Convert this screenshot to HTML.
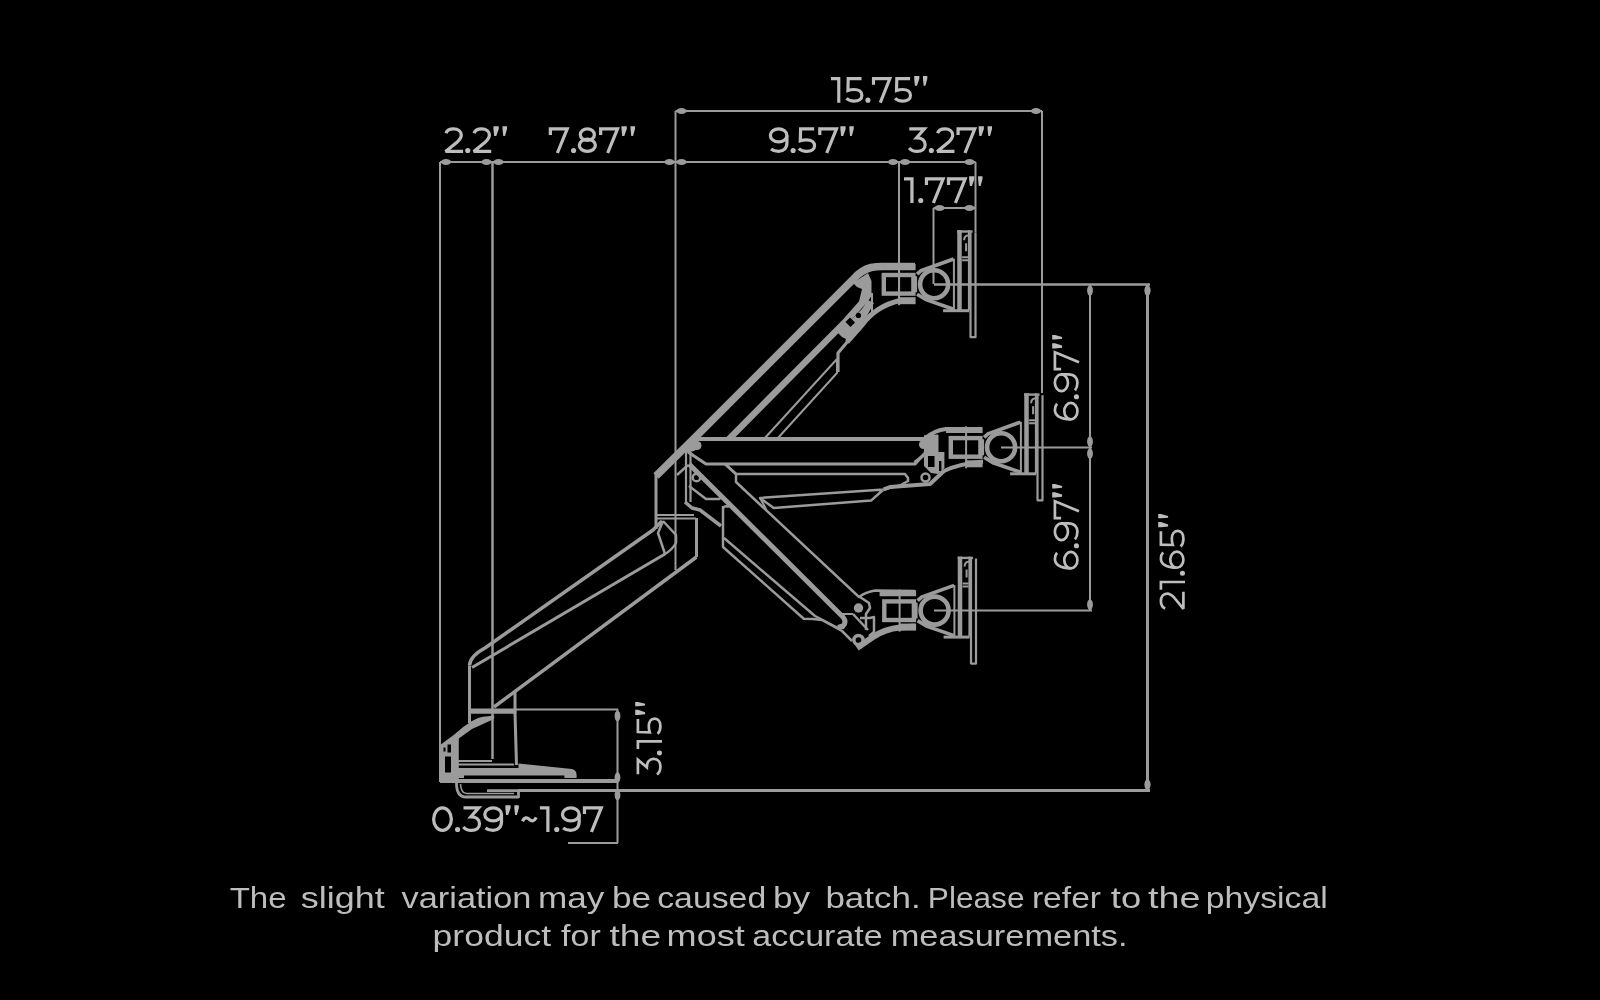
<!DOCTYPE html>
<html><head><meta charset="utf-8"><style>
html,body{margin:0;padding:0;background:#000;width:1600px;height:1000px;overflow:hidden}
svg{display:block;will-change:transform}
</style></head><body>
<svg width="1600" height="1000" viewBox="0 0 1600 1000">
<rect width="1600" height="1000" fill="#000"/>

<g stroke="#9b9b9b" fill="none" stroke-width="2">
  <path d="M675.5 111H1042"/>
  <path d="M675.5 111V570"/>
  <path d="M1042 111V393"/>
  <path d="M440 162H975.5"/>
  <path d="M440 162V782"/>
  <path d="M492.5 162V759" stroke-width="2.5"/>
  <path d="M899 162V300"/>
  <path d="M975.5 162V232"/>
  <path d="M933.5 208H975.5M933.5 208V284"/>
  <path d="M934 284.4H1150" stroke-width="2.5"/>
  <path d="M1090 284V610"/>
  <path d="M1147.5 284V790" stroke-width="3"/>
  <path d="M1001 447.4H1092"/>
  <path d="M934 610.6H1092"/>
  <path d="M518 790.6H1150" stroke-width="3"/>
  <path d="M515 709.5H618M617.5 709V843M568 843H618"/>
</g>
<g fill="#9b9b9b">
  <ellipse cx="681.5" cy="111" rx="5.2" ry="2.9"/><ellipse cx="1036" cy="111" rx="5.2" ry="2.9"/>
  <ellipse cx="446" cy="162" rx="5.2" ry="2.9"/><ellipse cx="486.5" cy="162" rx="5.2" ry="2.9"/><ellipse cx="498.5" cy="162" rx="5.2" ry="2.9"/><ellipse cx="669.5" cy="162" rx="5.2" ry="2.9"/><ellipse cx="681.5" cy="162" rx="5.2" ry="2.9"/><ellipse cx="893" cy="162" rx="5.2" ry="2.9"/><ellipse cx="905" cy="162" rx="5.2" ry="2.9"/><ellipse cx="969.5" cy="162" rx="5.2" ry="2.9"/>
  <ellipse cx="939.5" cy="208" rx="5.2" ry="2.9"/><ellipse cx="969.5" cy="208" rx="5.2" ry="2.9"/>
  <ellipse cx="1090" cy="290.5" rx="2.9" ry="5.2"/><ellipse cx="1090" cy="441.5" rx="2.9" ry="5.2"/><ellipse cx="1090" cy="453.5" rx="2.9" ry="5.2"/><ellipse cx="1090" cy="604.5" rx="2.9" ry="5.2"/>
  <ellipse cx="1147.5" cy="290.5" rx="3.1" ry="5.2"/><ellipse cx="1147.5" cy="784.5" rx="3.1" ry="5.2"/>
  <ellipse cx="617.5" cy="716" rx="2.9" ry="5.2"/><ellipse cx="617.5" cy="777.5" rx="2.9" ry="5.2"/><ellipse cx="617.5" cy="795" rx="2.9" ry="5.2"/>
</g>


<defs>
<g id="head" stroke="#9b9b9b" fill="none">
  <path d="M-55 -17.3H-18.5" stroke-width="6"/>
  <rect x="-50.3" y="-9.2" width="29.6" height="18.6" stroke-width="4.4"/>
  <path d="M-35 -21V21" stroke-width="2"/>
  <path d="M-35 16.5H-18.5" stroke-width="7"/>
  <circle r="14" stroke-width="4.6"/>
  <path d="M-19 -8V8" stroke-width="4"/>
  <path d="M-17 -10L-13 -13.5L19.5 -25.2" stroke-width="3.6"/>
  <path d="M-17 10L-8 15.5L19.5 25" stroke-width="3.6"/>
  <path d="M9 26.5H35" stroke-width="3"/>
  <path d="M19.8 -25.5V26" stroke-width="2"/>
  <path d="M25.4 -54V26" stroke-width="4.5"/>
  <path d="M34.8 -54V26" stroke-width="2"/>
  <path d="M23 -52.7H38.5" stroke-width="2.4"/>
  <path d="M28 -27H34M28 -24H34" stroke-width="2"/>
  <path d="M30 -44Q30 -49 35 -49M32 -41V-33" stroke-width="2"/>
  <path d="M36.4 -52V53.5M41.4 -52V53.5M36 53H42" stroke-width="2.2"/>
</g>
</defs>
<use href="#head" transform="translate(934.1 284.2)"/>
<use href="#head" transform="translate(1001.1 447.3)"/>
<use href="#head" transform="translate(934.6 610.6)"/>


<g stroke="#9b9b9b" fill="none" stroke-linejoin="round" stroke-linecap="butt">
  <!-- ===== upper arm ===== -->
  <path d="M656 476L693 439.5L854 278.5Q861.5 270 871 267.5Q876 266.5 882 266.5L915 266.5" stroke-width="7.5"/>
  <path d="M729 439L846 321L862 303L867 282" stroke-width="6.5"/>
  <path d="M853 283L868 273L871.5 281L871.5 296L866 304L862 303L862 289L857 287Z" fill="#9b9b9b" stroke="none"/>
  <path d="M866 293V310M872 293V312" stroke-width="2"/>
  <path d="M764 439L837 359" stroke-width="2"/>
  <path d="M777 439L837 373V359" stroke-width="2"/>
  <path d="M838 372V353L848 341" stroke-width="3.2"/>
  <path d="M847 342L862 325Q876 306 900 300.5L915 300.5" stroke-width="5"/>
  <path d="M838 333L862 309L868 300L874 303L862 325L848 340L842 337Z" fill="#9b9b9b" stroke="none"/>
  <circle cx="858.4" cy="315.4" r="2.6" fill="#000" stroke="none"/>
  <path d="M845.5 322L850.5 327L855 322.5L850 317.5Z" fill="#000" stroke="none"/>
  <!-- ===== middle arm ===== -->
  <path d="M692 439H924Q935 430 946 429L980 430.5" stroke-width="4"/>
  <path d="M925 436L937.5 435.5L937.5 452L929.5 455L925 450.5Z" fill="#9b9b9b" stroke-width="2"/>
  <circle cx="923.5" cy="444.5" r="4.5" fill="#9b9b9b" stroke="none"/>
  <path d="M914.5 462.5L929.5 450.5" stroke-width="3"/>
  <path d="M924 450L938 449V452H944.4V468L938 474L931 473L924 466Z" fill="#9b9b9b" stroke="none"/>
  <path d="M928 456h6.5v11h-6.5zM939 461h2.4v10h-2.4z" fill="#000" stroke="none"/>
  <path d="M688 452L706 464H915L926 452" stroke-width="3.2"/>
  <path d="M725 464L736 474H905L908 478V481L900 485.5L883.75 489.4L760 498L773.75 508L871 500.6L883 490" stroke-width="2.5"/>
  <path d="M760 498L766 509" stroke-width="2"/>
  <path d="M883.75 489.4L890 487L930 484L944 471Q958 464 983 461.5" stroke-width="4"/>
  <circle cx="925.5" cy="477.5" r="4" stroke-width="2.5"/>
  
  <!-- ===== lower-right arm ===== -->
  <path d="M689 464L843 617Q847 622 843 626L838 627.5" stroke-width="5"/>
  <path d="M725 464L736 474V482L859 597Q866 592 875 590.5L915 591" stroke-width="2.5"/>
  <path d="M689 486L706 499H719L722 497" stroke-width="2.5"/>
  <path d="M685 502L692 508L700 510L721 526" stroke-width="3.5"/>
  <path d="M723 506V547L803.75 618.75L813 619L822 620L842 631L852 641" stroke-width="2.5"/>
  <path d="M724 538L815 616L838 628L843 628L846 623" stroke-width="2.5"/>
  <path d="M723 508Q725 505 729 507" stroke-width="2.5"/>
  <circle cx="696.5" cy="477.5" r="3.8" stroke-width="2.5"/>
  <circle cx="697" cy="445.5" r="4.5" fill="#9b9b9b" stroke="none"/>
  <path d="M686 452V502M690.5 452V502" stroke-width="2.2"/>
  <path d="M686 442L697 440.5L701 447L694 451L686 453Z" fill="#9b9b9b" stroke="none"/>
  <path d="M677 475L688 465" stroke-width="2.5"/>
  <circle cx="858.5" cy="608" r="4.7" fill="#9b9b9b" stroke="none"/>
  <circle cx="858.5" cy="640" r="4.6" stroke-width="3.5"/>
  <path d="M860 597L869 603L870 608L866 614V630" stroke-width="2.5"/>
  <path d="M853 614L868 630M860 618H870L874 617V632L869 636" stroke-width="2.5"/>
  <path d="M842 614H853" stroke-width="2"/>
  <path d="M857 648L873 637Q885 629 900 627.5L915 626.5" stroke-width="6"/>
  <!-- ===== column ===== -->
  <path d="M656 473V529" stroke-width="3"/>
  <path d="M656 515H694M656 518.5H696" stroke-width="2"/>
  <path d="M696.5 518V557" stroke-width="3"/>
  <!-- ===== lower-left arm ===== -->
  <path d="M469.5 665.5Q470 656 485 648L653 530L662 521" stroke-width="3.5"/>
  <path d="M472 667.5L665 554" stroke-width="3"/>
  <path d="M494 707L696.5 557" stroke-width="3.5"/>
  <path d="M663 521L676 535V543Q672 550 665 554L658 533L663 521" stroke-width="2.5"/>
  <!-- ===== base post ===== -->
  <path d="M469.5 665.5V723" stroke-width="3"/>
  <path d="M469 711.1H516.4" stroke-width="5.4"/>
  <path d="M515 692V713L516.5 765" stroke-width="3"/>
  <!-- clamp -->
  <path d="M440.8 744.4L454 734.8Q462 727 472 721L478 718Q483 716.5 488.2 716.2L494.2 715.6V718.5L491.8 720L472 729L458.8 738.4V781H440V745Z" fill="#9b9b9b" stroke="none"/>
  <path d="M443.5 747.5h2v4h-2zM447.5 744.5h3.5v8h-3.5zM445 756.5h6v16h-6z" fill="#000" stroke="none"/>
  <path d="M458 768H518.5V763.4L572 769Q576.6 770 576.6 775V778H458Z" fill="#9b9b9b" stroke="none"/>
  <path d="M464 776.9H564.4" stroke="#000" stroke-width="2.6"/>
  <path d="M440 781H617" stroke-width="4"/>
  <path d="M458 761H492M458 764.4H514" stroke-width="2"/>
  <path d="M456.5 783Q456.5 797 466 797H518.5V790.6H487" stroke-width="2.8"/>
  <path d="M460.5 784Q461 793.5 467 793.5H514" stroke-width="1.6"/>
</g>


<g stroke="#bdbdbd" stroke-width="3.2" fill="none" color="#bdbdbd">
<defs><g id="gl0"><ellipse cx="10.35" cy="-12.85" rx="8.75" ry="11.25"/></g><g id="gl1"><path d="M0 -24.1H7.9V0" stroke-linejoin="miter"/></g><g id="gl2"><path d="M2.2 -19.8C3.2 -22.8 6 -24.1 9.6 -24.1C14.3 -24.1 17.2 -21.6 17.2 -17.9C17.2 -15.4 16 -13.4 13 -10.7L1.8 -1.6H19" stroke-linejoin="bevel"/></g><g id="gl3"><path d="M1.8 -24.1H16.8L9 -15.2C14.6 -15.2 17.6 -12.4 17.6 -8.3C17.6 -4 14.3 -1.6 9.6 -1.6C6.3 -1.6 3.5 -2.8 1.6 -5" stroke-linejoin="miter"/></g><g id="gl5"><path d="M16.9 -24.1H3.4L3.1 -12.2C5 -12.9 7 -13.2 9.3 -13.2C14.4 -13.2 17.3 -10.8 17.3 -7.3C17.3 -3.7 14 -1.6 9.4 -1.6C6.2 -1.6 3.4 -2.6 1.6 -4.3" stroke-linejoin="miter"/></g><g id="gl6"><ellipse cx="9.75" cy="-8.15" rx="8.15" ry="6.55"/><path d="M1.6 -8.3C1.6 -19 5.6 -24.1 10.8 -24.1C13.6 -24.1 15.6 -23.3 17.1 -21.9"/></g><g id="gl7"><path d="M1.6 -17.9V-24.1H18.2L8.5 0" stroke-linejoin="miter"/></g><g id="gl8"><ellipse cx="9.5" cy="-18.3" rx="6.9" ry="5.8"/><ellipse cx="9.5" cy="-7.7" rx="7.9" ry="6.1"/></g><g id="gl9"><ellipse cx="9.85" cy="-17.6" rx="8.25" ry="6.55"/><path d="M18.1 -17.6V-10.5C18.1 -4.6 14.6 -1.6 9.8 -1.6C6.6 -1.6 4.1 -2.5 2.3 -4"/></g><g id="gldot"><circle cx="2.55" cy="-2.55" r="2.55" stroke="none" fill="currentColor"/></g><g id="glq"><path d="M0.2 -26.8H5.4V-24L3 -16.9H0.9L0.2 -24Z M9.1 -26.8H13.5V-24L11.6 -16.9H9.8L9.1 -24Z" stroke="none" fill="currentColor"/></g><g id="gltl"><path d="M1.6 -10.8C3.5 -14.8 6 -15 8.4 -12.7C10.8 -10.4 13.3 -10.6 15.2 -14.6"/></g></defs><g transform="translate(831 102.7) scale(0.9837 1)"><use href="#gl1" x="0.00"/><use href="#gl5" x="14.10"/><use href="#gldot" x="35.00"/><use href="#gl7" x="41.60"/><use href="#gl5" x="63.50"/><use href="#glq" x="84.40"/></g><g transform="translate(443.75 153) scale(1.0185 1)"><use href="#gl2" x="0.00"/><use href="#gldot" x="21.00"/><use href="#gl2" x="27.60"/><use href="#glq" x="48.60"/></g><g transform="translate(548.75 153) scale(1.0159 1)"><use href="#gl7" x="0.00"/><use href="#gldot" x="21.90"/><use href="#gl8" x="28.50"/><use href="#gl7" x="49.50"/><use href="#glq" x="71.40"/></g><g transform="translate(768.75 153) scale(1.0047 1)"><use href="#gl9" x="0.00"/><use href="#gldot" x="21.70"/><use href="#gl5" x="28.30"/><use href="#gl7" x="49.20"/><use href="#glq" x="71.10"/></g><g transform="translate(907.5 153) scale(1.0036 1)"><use href="#gl3" x="0.00"/><use href="#gldot" x="21.20"/><use href="#gl2" x="27.80"/><use href="#gl7" x="48.80"/><use href="#glq" x="70.70"/></g><g transform="translate(904 203) scale(1.0064 1)"><use href="#gl1" x="0.00"/><use href="#gldot" x="14.10"/><use href="#gl7" x="20.70"/><use href="#gl7" x="42.60"/><use href="#glq" x="64.50"/></g><g transform="translate(432 832) scale(1.0130 1)"><use href="#gl0" x="0.00"/><use href="#gldot" x="22.70"/><use href="#gl3" x="29.30"/><use href="#gl9" x="50.50"/><use href="#glq" x="72.20"/><use href="#gltl" x="87.70"/><use href="#gl1" x="106.50"/><use href="#gldot" x="120.60"/><use href="#gl9" x="127.20"/><use href="#gl7" x="148.90"/></g><g transform="translate(1079 421) rotate(-90) scale(1.0094 1)" stroke-width="2.7"><use href="#gl6" x="0.00"/><use href="#gldot" x="21.50"/><use href="#gl9" x="28.10"/><use href="#gl7" x="49.80"/><use href="#glq" x="71.70"/></g><g transform="translate(1079 570) rotate(-90) scale(1.0094 1)" stroke-width="2.7"><use href="#gl6" x="0.00"/><use href="#gldot" x="21.50"/><use href="#gl9" x="28.10"/><use href="#gl7" x="49.80"/><use href="#glq" x="71.70"/></g><g transform="translate(1185 610.6) rotate(-90) scale(0.9898 1)" stroke-width="2.7"><use href="#gl2" x="0.00"/><use href="#gl1" x="21.00"/><use href="#gldot" x="35.10"/><use href="#gl6" x="41.70"/><use href="#gl5" x="63.20"/><use href="#glq" x="84.10"/></g><g transform="translate(662 776) rotate(-90) scale(0.9699 1)" stroke-width="2.7"><use href="#gl3" x="0.00"/><use href="#gldot" x="21.20"/><use href="#gl1" x="27.80"/><use href="#gl5" x="41.90"/><use href="#glq" x="62.80"/></g>
</g>
<g font-family="Liberation Sans" font-size="29" fill="#bdbdbd">
  <text x="229.7" y="908" textLength="56.9" lengthAdjust="spacingAndGlyphs">The</text>
  <text x="300.7" y="908" textLength="84.0" lengthAdjust="spacingAndGlyphs">slight</text>
  <text x="401.6" y="908" textLength="129.8" lengthAdjust="spacingAndGlyphs">variation</text>
  <text x="537.9" y="908" textLength="66.4" lengthAdjust="spacingAndGlyphs">may</text>
  <text x="612.0" y="908" textLength="39.1" lengthAdjust="spacingAndGlyphs">be</text>
  <text x="657.2" y="908" textLength="109.0" lengthAdjust="spacingAndGlyphs">caused</text>
  <text x="772.9" y="908" textLength="37.2" lengthAdjust="spacingAndGlyphs">by</text>
  <text x="825.4" y="908" textLength="95.3" lengthAdjust="spacingAndGlyphs">batch.</text>
  <text x="927.8" y="908" textLength="96.7" lengthAdjust="spacingAndGlyphs">Please</text>
  <text x="1031.9" y="908" textLength="69.2" lengthAdjust="spacingAndGlyphs">refer</text>
  <text x="1110.8" y="908" textLength="30.4" lengthAdjust="spacingAndGlyphs">to</text>
  <text x="1148.0" y="908" textLength="52.5" lengthAdjust="spacingAndGlyphs">the</text>
  <text x="1205.7" y="908" textLength="122.1" lengthAdjust="spacingAndGlyphs">physical</text>
  <text x="432.6" y="946" textLength="118.5" lengthAdjust="spacingAndGlyphs">product</text>
  <text x="561.1" y="946" textLength="39.7" lengthAdjust="spacingAndGlyphs">for</text>
  <text x="609.5" y="946" textLength="51.7" lengthAdjust="spacingAndGlyphs">the</text>
  <text x="666.6" y="946" textLength="78.2" lengthAdjust="spacingAndGlyphs">most</text>
  <text x="752.3" y="946" textLength="130.4" lengthAdjust="spacingAndGlyphs">accurate</text>
  <text x="890.7" y="946" textLength="236.9" lengthAdjust="spacingAndGlyphs">measurements.</text>
</g>

</svg>
</body></html>
